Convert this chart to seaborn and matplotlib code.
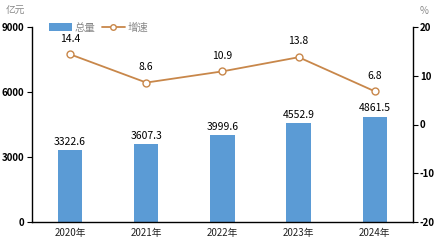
import matplotlib
matplotlib.use("Agg")
import matplotlib.pyplot as plt
import seaborn as sns
import pandas as pd
from matplotlib.lines import Line2D
from matplotlib.patches import Patch

years = ["2020年", "2021年", "2022年", "2023年", "2024年"]
totals = [3322.6, 3607.3, 3999.6, 4552.9, 4861.5]
growth = [14.4, 8.6, 10.9, 13.8, 6.8]
left_ticks = [0, 3000, 6000, 9000]
right_ticks = [-20, -10, 0, 10, 20]

sns.set_style("white")
plt.rcParams['font.family'] = ['Noto Sans CJK SC', 'DejaVu Sans']
plt.rcParams['axes.unicode_minus'] = False

bar_color = "#5B9BD5"
line_color = "#C8874A"

df = pd.DataFrame({"year": years, "total": totals, "growth": growth})

fig = plt.figure(figsize=(4.37, 2.5), dpi=100)
ax = fig.add_axes([0.0732, 0.112, 0.8718, 0.78])
sns.barplot(data=df, x="year", y="total", color=bar_color, width=0.32,
            saturation=1, ax=ax, edgecolor="none")
ax.set_ylim(0, 9000)
ax.set_yticks(left_ticks)
ax.set_xlim(-0.5, 4.5)
ax.set_xlabel("")
ax.set_ylabel("")
for s in ["top", "right"]:
    ax.spines[s].set_visible(False)
for s in ["left", "bottom"]:
    ax.spines[s].set_color("black")
    ax.spines[s].set_linewidth(1.0)
ax.tick_params(axis="y", direction="out", length=3.5, width=0.8, colors="black",
               labelsize=7, pad=2, left=True)
ax.tick_params(axis="x", length=0, labelsize=7, pad=4, labelcolor="#222222")
for t in ax.get_yticklabels():
    t.set_fontweight("bold")
for i, v in enumerate(totals):
    ax.text(i, v + 150, f"{v:.1f}", ha="center", va="bottom", fontsize=7.5,
            color="black")

ax2 = ax.twinx()
sns.lineplot(data=df, x="year", y="growth", ax=ax2, color=line_color, lw=1.3,
             marker="o", markersize=5, markerfacecolor="white",
             markeredgecolor=line_color, markeredgewidth=1.0)
ax2.set_ylim(-20, 20)
ax2.set_yticks(right_ticks)
ax2.set_xlim(-0.5, 4.5)
ax2.set_ylabel("")
ax2.set_xlabel("")
for s in ["top", "left", "bottom"]:
    ax2.spines[s].set_visible(False)
ax2.spines["right"].set_visible(True)
ax2.spines["right"].set_color("black")
ax2.spines["right"].set_linewidth(1.0)
ax2.tick_params(axis="y", direction="out", length=3.5, width=0.8, colors="black",
                labelsize=7, pad=1.5, right=True)
for t in ax2.get_yticklabels():
    t.set_fontweight("bold")
for i, v in enumerate(growth):
    ax2.text(i, v + 2.2, f"{v:.1f}", ha="center", va="bottom", fontsize=7.5,
             color="black")

fig.text(0.012, 0.955, "亿元", fontsize=7, color="#888888", ha="left", va="center")
fig.text(0.97, 0.955, "%", fontsize=7, color="#888888", ha="center", va="center")

handles = [Patch(facecolor=bar_color, edgecolor="none"),
           Line2D([0], [0], color=line_color, lw=1.3, marker="o", markersize=4,
                  markerfacecolor="white", markeredgecolor=line_color)]
leg = fig.legend(handles, ["总量", "增速"], loc="center left",
                 bbox_to_anchor=(0.09, 0.89), ncol=2, frameon=False,
                 fontsize=7.5, handlelength=2.2, handleheight=0.7,
                 columnspacing=0.6, handletextpad=0.3, labelcolor="#888888")

fig.savefig("out.png", dpi=100)
